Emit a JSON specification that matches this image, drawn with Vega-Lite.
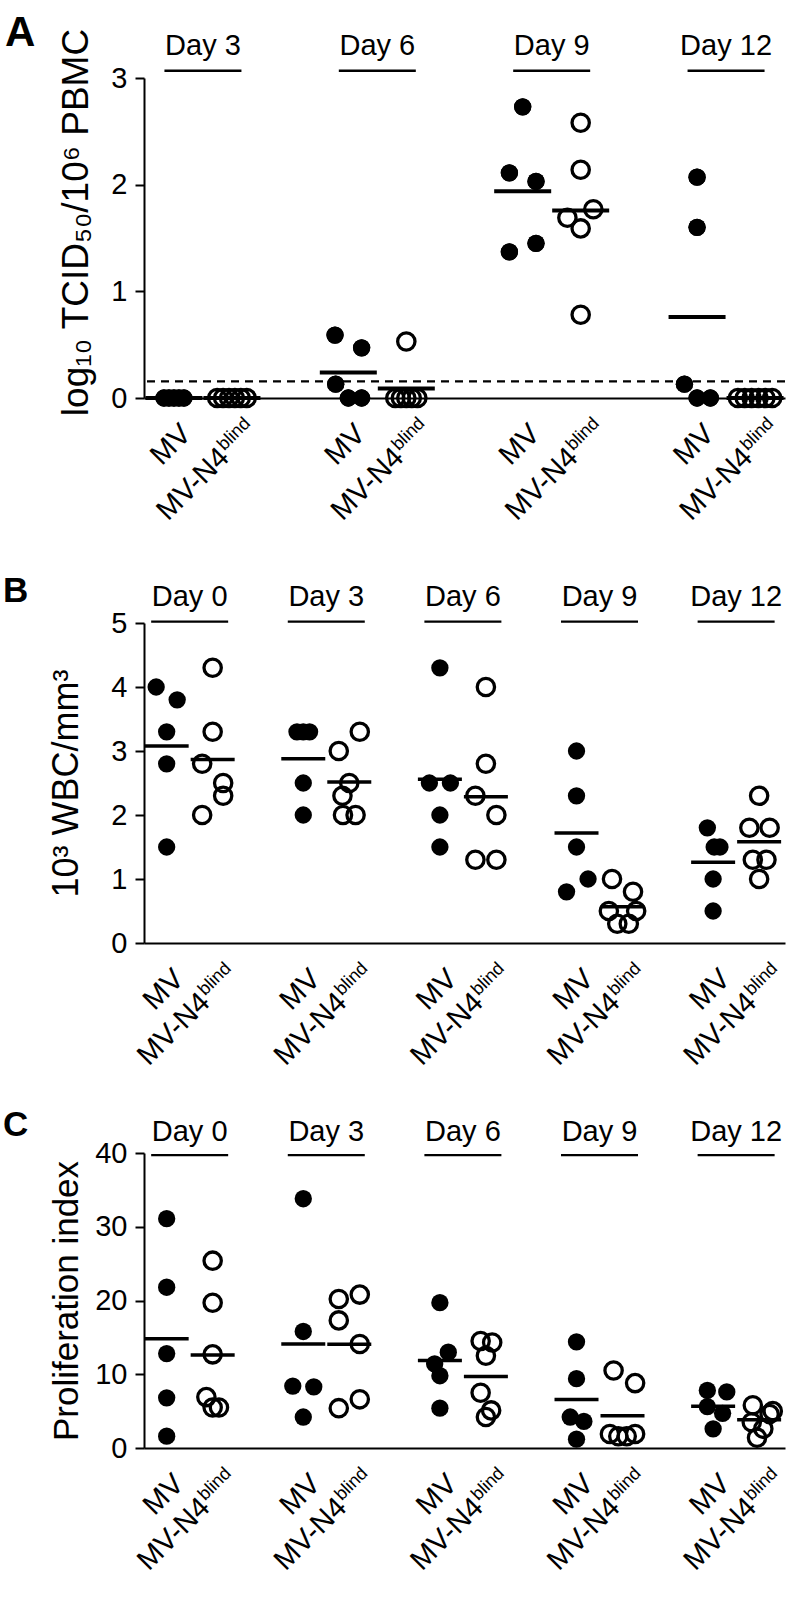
{
  "$schema": "https://vega.github.io/schema/vega-lite/v6.json",
  "background": "white",
  "padding": {"left": 3, "top": 12, "right": 0, "bottom": 0},
  "config": {
    "font": "Liberation Sans",
    "view": {"stroke": null},
    "axis": {"domainColor": "black", "tickColor": "black", "labelColor": "black", "titleColor": "black", "domainWidth": 2, "tickWidth": 2, "tickSize": 9, "grid": false, "labelFont": "Liberation Sans", "titleFont": "Liberation Sans", "titleFontWeight": "normal", "labelFontSize": 29, "labelPadding": 8},
    "axisX": {"labels": false, "ticks": false, "domain": true},
    "title": {"color": "black", "font": "Liberation Sans", "fontWeight": "bold", "anchor": "start", "frame": "group", "baseline": "alphabetic", "offset": 0},
    "text": {"font": "Liberation Sans", "color": "black"},
    "point": {"opacity": 1},
    "tick": {"opacity": 1, "color": "black"}
  },
  "datasets": {
    "A": [
      {"day": "Day 3", "group": "MV", "value": 0, "dodge": -0.75},
      {"day": "Day 3", "group": "MV", "value": 0, "dodge": -0.375},
      {"day": "Day 3", "group": "MV", "value": 0, "dodge": 0},
      {"day": "Day 3", "group": "MV", "value": 0, "dodge": 0.375},
      {"day": "Day 3", "group": "MV", "value": 0, "dodge": 0.75},
      {"day": "Day 3", "group": "MV-N4", "value": 0, "dodge": -1.11},
      {"day": "Day 3", "group": "MV-N4", "value": 0, "dodge": -0.665},
      {"day": "Day 3", "group": "MV-N4", "value": 0, "dodge": -0.22},
      {"day": "Day 3", "group": "MV-N4", "value": 0, "dodge": 0.22},
      {"day": "Day 3", "group": "MV-N4", "value": 0, "dodge": 0.665},
      {"day": "Day 3", "group": "MV-N4", "value": 0, "dodge": 1.11},
      {"day": "Day 6", "group": "MV", "value": 0.59, "dodge": -1},
      {"day": "Day 6", "group": "MV", "value": 0.47, "dodge": 1},
      {"day": "Day 6", "group": "MV", "value": 0.13, "dodge": -0.95},
      {"day": "Day 6", "group": "MV", "value": 0, "dodge": 0},
      {"day": "Day 6", "group": "MV", "value": 0, "dodge": 1},
      {"day": "Day 6", "group": "MV-N4", "value": 0.53, "dodge": 0},
      {"day": "Day 6", "group": "MV-N4", "value": 0, "dodge": -0.83},
      {"day": "Day 6", "group": "MV-N4", "value": 0, "dodge": -0.41},
      {"day": "Day 6", "group": "MV-N4", "value": 0, "dodge": 0},
      {"day": "Day 6", "group": "MV-N4", "value": 0, "dodge": 0.41},
      {"day": "Day 6", "group": "MV-N4", "value": 0, "dodge": 0.83},
      {"day": "Day 9", "group": "MV", "value": 2.73, "dodge": 0},
      {"day": "Day 9", "group": "MV", "value": 2.11, "dodge": -1},
      {"day": "Day 9", "group": "MV", "value": 2.03, "dodge": 1},
      {"day": "Day 9", "group": "MV", "value": 1.37, "dodge": -1},
      {"day": "Day 9", "group": "MV", "value": 1.45, "dodge": 1},
      {"day": "Day 9", "group": "MV-N4", "value": 2.58, "dodge": 0},
      {"day": "Day 9", "group": "MV-N4", "value": 2.14, "dodge": 0},
      {"day": "Day 9", "group": "MV-N4", "value": 1.77, "dodge": 0.95},
      {"day": "Day 9", "group": "MV-N4", "value": 1.69, "dodge": -1},
      {"day": "Day 9", "group": "MV-N4", "value": 1.59, "dodge": 0},
      {"day": "Day 9", "group": "MV-N4", "value": 0.78, "dodge": 0},
      {"day": "Day 12", "group": "MV", "value": 2.07, "dodge": 0},
      {"day": "Day 12", "group": "MV", "value": 1.6, "dodge": 0},
      {"day": "Day 12", "group": "MV", "value": 0.13, "dodge": -0.95},
      {"day": "Day 12", "group": "MV", "value": 0, "dodge": 0},
      {"day": "Day 12", "group": "MV", "value": 0, "dodge": 1},
      {"day": "Day 12", "group": "MV-N4", "value": 0, "dodge": -1.29},
      {"day": "Day 12", "group": "MV-N4", "value": 0, "dodge": -0.78},
      {"day": "Day 12", "group": "MV-N4", "value": 0, "dodge": -0.26},
      {"day": "Day 12", "group": "MV-N4", "value": 0, "dodge": 0.26},
      {"day": "Day 12", "group": "MV-N4", "value": 0, "dodge": 0.78},
      {"day": "Day 12", "group": "MV-N4", "value": 0, "dodge": 1.29}
    ],
    "lodA": [{"lod": 0.155}],
    "B": [
      {"day": "Day 0", "group": "MV", "value": 4.0, "dodge": -1},
      {"day": "Day 0", "group": "MV", "value": 3.8, "dodge": 1},
      {"day": "Day 0", "group": "MV", "value": 3.3, "dodge": 0},
      {"day": "Day 0", "group": "MV", "value": 2.8, "dodge": 0},
      {"day": "Day 0", "group": "MV", "value": 1.5, "dodge": 0},
      {"day": "Day 0", "group": "MV-N4", "value": 4.3, "dodge": 0},
      {"day": "Day 0", "group": "MV-N4", "value": 3.3, "dodge": 0},
      {"day": "Day 0", "group": "MV-N4", "value": 2.8, "dodge": -1},
      {"day": "Day 0", "group": "MV-N4", "value": 2.5, "dodge": 1},
      {"day": "Day 0", "group": "MV-N4", "value": 2.3, "dodge": 1},
      {"day": "Day 0", "group": "MV-N4", "value": 2.0, "dodge": -1},
      {"day": "Day 3", "group": "MV", "value": 3.3, "dodge": -0.6},
      {"day": "Day 3", "group": "MV", "value": 3.3, "dodge": 0},
      {"day": "Day 3", "group": "MV", "value": 3.3, "dodge": 0.6},
      {"day": "Day 3", "group": "MV", "value": 2.5, "dodge": 0},
      {"day": "Day 3", "group": "MV", "value": 2.0, "dodge": 0},
      {"day": "Day 3", "group": "MV-N4", "value": 3.3, "dodge": 1},
      {"day": "Day 3", "group": "MV-N4", "value": 3.0, "dodge": -1},
      {"day": "Day 3", "group": "MV-N4", "value": 2.5, "dodge": 0},
      {"day": "Day 3", "group": "MV-N4", "value": 2.3, "dodge": -0.65},
      {"day": "Day 3", "group": "MV-N4", "value": 2.0, "dodge": -0.6},
      {"day": "Day 3", "group": "MV-N4", "value": 2.0, "dodge": 0.6},
      {"day": "Day 6", "group": "MV", "value": 4.3, "dodge": 0},
      {"day": "Day 6", "group": "MV", "value": 2.5, "dodge": -1},
      {"day": "Day 6", "group": "MV", "value": 2.5, "dodge": 1},
      {"day": "Day 6", "group": "MV", "value": 2.0, "dodge": 0},
      {"day": "Day 6", "group": "MV", "value": 1.5, "dodge": 0},
      {"day": "Day 6", "group": "MV-N4", "value": 4.0, "dodge": 0},
      {"day": "Day 6", "group": "MV-N4", "value": 2.8, "dodge": 0},
      {"day": "Day 6", "group": "MV-N4", "value": 2.3, "dodge": -1},
      {"day": "Day 6", "group": "MV-N4", "value": 2.0, "dodge": 1},
      {"day": "Day 6", "group": "MV-N4", "value": 1.3, "dodge": -1},
      {"day": "Day 6", "group": "MV-N4", "value": 1.3, "dodge": 1},
      {"day": "Day 9", "group": "MV", "value": 3.0, "dodge": 0},
      {"day": "Day 9", "group": "MV", "value": 2.3, "dodge": 0},
      {"day": "Day 9", "group": "MV", "value": 1.5, "dodge": 0},
      {"day": "Day 9", "group": "MV", "value": 1.0, "dodge": 1.1},
      {"day": "Day 9", "group": "MV", "value": 0.8, "dodge": -0.95},
      {"day": "Day 9", "group": "MV-N4", "value": 1.0, "dodge": -1},
      {"day": "Day 9", "group": "MV-N4", "value": 0.8, "dodge": 1},
      {"day": "Day 9", "group": "MV-N4", "value": 0.5, "dodge": -1.3},
      {"day": "Day 9", "group": "MV-N4", "value": 0.5, "dodge": 1.3},
      {"day": "Day 9", "group": "MV-N4", "value": 0.3, "dodge": -0.5},
      {"day": "Day 9", "group": "MV-N4", "value": 0.3, "dodge": 0.6},
      {"day": "Day 12", "group": "MV", "value": 1.8, "dodge": -0.55},
      {"day": "Day 12", "group": "MV", "value": 1.5, "dodge": 0.1},
      {"day": "Day 12", "group": "MV", "value": 1.5, "dodge": 0.65},
      {"day": "Day 12", "group": "MV", "value": 1.0, "dodge": 0},
      {"day": "Day 12", "group": "MV", "value": 0.5, "dodge": 0},
      {"day": "Day 12", "group": "MV-N4", "value": 2.3, "dodge": 0},
      {"day": "Day 12", "group": "MV-N4", "value": 1.8, "dodge": -0.93},
      {"day": "Day 12", "group": "MV-N4", "value": 1.8, "dodge": 1},
      {"day": "Day 12", "group": "MV-N4", "value": 1.3, "dodge": -0.6},
      {"day": "Day 12", "group": "MV-N4", "value": 1.3, "dodge": 0.7},
      {"day": "Day 12", "group": "MV-N4", "value": 1.0, "dodge": 0}
    ],
    "C": [
      {"day": "Day 0", "group": "MV", "value": 31.1, "dodge": 0},
      {"day": "Day 0", "group": "MV", "value": 21.8, "dodge": 0},
      {"day": "Day 0", "group": "MV", "value": 12.8, "dodge": 0},
      {"day": "Day 0", "group": "MV", "value": 6.8, "dodge": 0},
      {"day": "Day 0", "group": "MV", "value": 1.6, "dodge": 0},
      {"day": "Day 0", "group": "MV-N4", "value": 25.4, "dodge": 0},
      {"day": "Day 0", "group": "MV-N4", "value": 19.7, "dodge": 0},
      {"day": "Day 0", "group": "MV-N4", "value": 12.7, "dodge": 0},
      {"day": "Day 0", "group": "MV-N4", "value": 6.9, "dodge": -0.6},
      {"day": "Day 0", "group": "MV-N4", "value": 5.5, "dodge": 0},
      {"day": "Day 0", "group": "MV-N4", "value": 5.5, "dodge": 0.6},
      {"day": "Day 3", "group": "MV", "value": 33.8, "dodge": 0},
      {"day": "Day 3", "group": "MV", "value": 15.8, "dodge": 0},
      {"day": "Day 3", "group": "MV", "value": 8.4, "dodge": -1},
      {"day": "Day 3", "group": "MV", "value": 8.3, "dodge": 1},
      {"day": "Day 3", "group": "MV", "value": 4.2, "dodge": 0},
      {"day": "Day 3", "group": "MV-N4", "value": 20.8, "dodge": 1},
      {"day": "Day 3", "group": "MV-N4", "value": 20.2, "dodge": -1},
      {"day": "Day 3", "group": "MV-N4", "value": 17.3, "dodge": -1},
      {"day": "Day 3", "group": "MV-N4", "value": 14.1, "dodge": 1},
      {"day": "Day 3", "group": "MV-N4", "value": 6.6, "dodge": 1},
      {"day": "Day 3", "group": "MV-N4", "value": 5.4, "dodge": -1},
      {"day": "Day 6", "group": "MV", "value": 19.7, "dodge": 0},
      {"day": "Day 6", "group": "MV", "value": 13.0, "dodge": 0.8},
      {"day": "Day 6", "group": "MV", "value": 11.4, "dodge": -0.5},
      {"day": "Day 6", "group": "MV", "value": 9.8, "dodge": 0},
      {"day": "Day 6", "group": "MV", "value": 5.4, "dodge": 0},
      {"day": "Day 6", "group": "MV-N4", "value": 14.5, "dodge": -0.5},
      {"day": "Day 6", "group": "MV-N4", "value": 14.3, "dodge": 0.6},
      {"day": "Day 6", "group": "MV-N4", "value": 12.5, "dodge": 0},
      {"day": "Day 6", "group": "MV-N4", "value": 7.5, "dodge": -0.5},
      {"day": "Day 6", "group": "MV-N4", "value": 5.1, "dodge": 0.5},
      {"day": "Day 6", "group": "MV-N4", "value": 4.2, "dodge": 0},
      {"day": "Day 9", "group": "MV", "value": 14.4, "dodge": 0},
      {"day": "Day 9", "group": "MV", "value": 9.4, "dodge": 0},
      {"day": "Day 9", "group": "MV", "value": 4.2, "dodge": -0.6},
      {"day": "Day 9", "group": "MV", "value": 3.6, "dodge": 0.7},
      {"day": "Day 9", "group": "MV", "value": 1.2, "dodge": 0},
      {"day": "Day 9", "group": "MV-N4", "value": 10.5, "dodge": -0.85},
      {"day": "Day 9", "group": "MV-N4", "value": 8.8, "dodge": 1.2},
      {"day": "Day 9", "group": "MV-N4", "value": 1.9, "dodge": -1.2},
      {"day": "Day 9", "group": "MV-N4", "value": 1.6, "dodge": -0.4},
      {"day": "Day 9", "group": "MV-N4", "value": 1.6, "dodge": 0.4},
      {"day": "Day 9", "group": "MV-N4", "value": 1.9, "dodge": 1.2},
      {"day": "Day 12", "group": "MV", "value": 7.8, "dodge": -0.55},
      {"day": "Day 12", "group": "MV", "value": 7.6, "dodge": 1.3},
      {"day": "Day 12", "group": "MV", "value": 5.6, "dodge": -0.55},
      {"day": "Day 12", "group": "MV", "value": 4.7, "dodge": 0.9},
      {"day": "Day 12", "group": "MV", "value": 2.6, "dodge": 0},
      {"day": "Day 12", "group": "MV-N4", "value": 5.8, "dodge": -0.6},
      {"day": "Day 12", "group": "MV-N4", "value": 5.0, "dodge": 1.3},
      {"day": "Day 12", "group": "MV-N4", "value": 4.6, "dodge": 1.0},
      {"day": "Day 12", "group": "MV-N4", "value": 3.5, "dodge": -0.7},
      {"day": "Day 12", "group": "MV-N4", "value": 2.6, "dodge": 0.4},
      {"day": "Day 12", "group": "MV-N4", "value": 1.4, "dodge": -0.2}
    ]
  },
  "bounds": "flush",
  "spacing": 225,
  "vconcat": [
    {
      "width": 641, "height": 320,
      "title": {"text": "A", "fontSize": 42, "dx": -139, "dy": 31.3},
      "data": {"name": "A"},
      "resolve": {"scale": {"xOffset": "independent"}},
      "layer": [
        {"transform": [{"filter": {"field": "group", "equal": "MV"}}],
         "mark": {"type": "point", "shape": "circle", "filled": true, "size": 300, "color": "black"},
         "encoding": {
           "x": {"field": "day", "type": "nominal", "scale": {"type": "point", "domain": ["Day 3", "Day 6", "Day 9", "Day 12"], "padding": 0.338, "align": 0.5}, "axis": {"title": null}},
           "xOffset": {"field": "dodge", "type": "quantitative", "scale": {"domain": [-1, 1], "range": [-42.3, -15.7], "zero": false, "nice": false}},
           "y": {"field": "value", "type": "quantitative", "scale": {"domain": [0, 3]}, "axis": {"values": [0, 1, 2, 3], "format": "d", "title": "log₁₀ TCID₅₀/10⁶ PBMC", "titleFontSize": 37, "titlePadding": 15, "titleY": 144}}
         }},
        {"data": {"name": "lodA"}, "mark": {"type": "rule", "strokeDash": [8, 6], "strokeWidth": 2.3, "color": "black"},
         "encoding": {"y": {"field": "lod", "type": "quantitative"}}},
        {"transform": [{"filter": {"field": "group", "equal": "MV"}}],
         "mark": {"type": "point", "shape": "circle", "filled": true, "size": 300, "color": "black"},
         "encoding": {
           "x": {"field": "day", "type": "nominal"},
           "xOffset": {"field": "dodge", "type": "quantitative", "scale": {"domain": [-1, 1], "range": [-42.3, -15.7], "zero": false, "nice": false}},
           "y": {"field": "value", "type": "quantitative"}
         }},
        {"transform": [{"filter": {"field": "group", "equal": "MV-N4"}}],
         "mark": {"type": "point", "shape": "circle", "filled": false, "size": 300, "strokeWidth": 3.3, "color": "black"},
         "encoding": {
           "x": {"field": "day", "type": "nominal"},
           "xOffset": {"field": "dodge", "type": "quantitative", "scale": {"domain": [-1, 1], "range": [15.7, 42.3], "zero": false, "nice": false}},
           "y": {"field": "value", "type": "quantitative"}
         }},
        {"transform": [{"aggregate": [{"op": "mean", "field": "value", "as": "mean"}], "groupby": ["day", "group"]}],
         "mark": {"type": "tick", "size": 57, "thickness": 4},
         "encoding": {
           "x": {"field": "day", "type": "nominal"},
           "xOffset": {"field": "group", "type": "nominal", "scale": {"type": "point", "domain": ["MV", "MV-N4"], "range": [-29, 29], "padding": 0}},
           "y": {"field": "mean", "type": "quantitative"}
         }},
        {"transform": [{"aggregate": [{"op": "count", "as": "n"}], "groupby": ["day", "group"]}, {"filter": {"field": "group", "equal": "MV"}}],
         "mark": {"type": "text", "angle": -45, "align": "right", "baseline": "alphabetic", "fontSize": 29, "dx": -13.4, "dy": 39.8},
         "encoding": {
           "x": {"field": "day", "type": "nominal"},
           "xOffset": {"field": "group", "type": "nominal", "scale": {"type": "point", "domain": ["MV", "MV-N4"], "range": [-29, 29], "padding": 0}},
           "y": {"datum": 0},
           "text": {"field": "group"}
         }},
        {"transform": [{"aggregate": [{"op": "count", "as": "n"}], "groupby": ["day", "group"]}, {"filter": {"field": "group", "equal": "MV-N4"}}],
         "mark": {"type": "text", "angle": -45, "align": "right", "baseline": "alphabetic", "fontSize": 29, "dx": -44, "dy": 42.3},
         "encoding": {
           "x": {"field": "day", "type": "nominal"},
           "xOffset": {"field": "group", "type": "nominal", "scale": {"type": "point", "domain": ["MV", "MV-N4"], "range": [-29, 29], "padding": 0}},
           "y": {"datum": 0},
           "text": {"field": "group"}
         }},
        {"transform": [{"aggregate": [{"op": "count", "as": "n"}], "groupby": ["day", "group"]}, {"filter": {"field": "group", "equal": "MV-N4"}}],
         "mark": {"type": "text", "angle": -45, "align": "right", "baseline": "alphabetic", "fontSize": 18, "dx": -5, "dy": 32.3},
         "encoding": {
           "x": {"field": "day", "type": "nominal"},
           "xOffset": {"field": "group", "type": "nominal", "scale": {"type": "point", "domain": ["MV", "MV-N4"], "range": [-29, 29], "padding": 0}},
           "y": {"datum": 0},
           "text": {"value": "blind"}
         }},
        {"transform": [{"aggregate": [{"op": "count", "as": "n"}], "groupby": ["day"]}],
         "mark": {"type": "text", "align": "center", "baseline": "alphabetic", "fontSize": 29},
         "encoding": {
           "x": {"field": "day", "type": "nominal"},
           "y": {"datum": 3.216},
           "text": {"field": "day"}
         }},
        {"transform": [{"aggregate": [{"op": "count", "as": "n"}], "groupby": ["day"]}],
         "mark": {"type": "tick", "size": 77, "thickness": 2.3},
         "encoding": {
           "x": {"field": "day", "type": "nominal"},
           "y": {"datum": 3.068}
         }}
      ]
    },
    {
      "bounds": "flush",
      "spacing": 210,
      "vconcat": [
        {
          "width": 641, "height": 320,
          "title": {"text": "B", "fontSize": 35, "dx": -141, "dy": 29.6},
          "data": {"name": "B"},
          "resolve": {"scale": {"xOffset": "independent"}},
          "layer": [
            {"transform": [{"filter": {"field": "group", "equal": "MV"}}],
             "mark": {"type": "point", "shape": "circle", "filled": true, "size": 300, "color": "black"},
             "encoding": {
               "x": {"field": "day", "type": "nominal", "scale": {"type": "point", "domain": ["Day 0", "Day 3", "Day 6", "Day 9", "Day 12"], "padding": 0.346, "align": 0.483}, "axis": {"title": null}},
               "xOffset": {"field": "dodge", "type": "quantitative", "scale": {"domain": [-1, 1], "range": [-33.5, -12.5], "zero": false, "nice": false}},
               "y": {"field": "value", "type": "quantitative", "scale": {"domain": [0, 5]}, "axis": {"values": [0, 1, 2, 3, 4, 5], "format": "d", "title": "10³ WBC/mm³", "titleFontSize": 36, "titlePadding": 25}}
             }},
            {"transform": [{"filter": {"field": "group", "equal": "MV-N4"}}],
             "mark": {"type": "point", "shape": "circle", "filled": false, "size": 300, "strokeWidth": 3.3, "color": "black"},
             "encoding": {
               "x": {"field": "day", "type": "nominal"},
               "xOffset": {"field": "dodge", "type": "quantitative", "scale": {"domain": [-1, 1], "range": [12.5, 33.5], "zero": false, "nice": false}},
               "y": {"field": "value", "type": "quantitative"}
             }},
            {"transform": [{"aggregate": [{"op": "mean", "field": "value", "as": "mean"}], "groupby": ["day", "group"]}],
             "mark": {"type": "tick", "size": 44, "thickness": 3.5},
             "encoding": {
               "x": {"field": "day", "type": "nominal"},
               "xOffset": {"field": "group", "type": "nominal", "scale": {"type": "point", "domain": ["MV", "MV-N4"], "range": [-23, 23], "padding": 0}},
               "y": {"field": "mean", "type": "quantitative"}
             }},
            {"transform": [{"aggregate": [{"op": "count", "as": "n"}], "groupby": ["day", "group"]}, {"filter": {"field": "group", "equal": "MV"}}],
             "mark": {"type": "text", "angle": -45, "align": "right", "baseline": "alphabetic", "fontSize": 29, "dx": -13.4, "dy": 39.8},
             "encoding": {
               "x": {"field": "day", "type": "nominal"},
               "xOffset": {"field": "group", "type": "nominal", "scale": {"type": "point", "domain": ["MV", "MV-N4"], "range": [-23, 23], "padding": 0}},
               "y": {"datum": 0},
               "text": {"field": "group"}
             }},
            {"transform": [{"aggregate": [{"op": "count", "as": "n"}], "groupby": ["day", "group"]}, {"filter": {"field": "group", "equal": "MV-N4"}}],
             "mark": {"type": "text", "angle": -45, "align": "right", "baseline": "alphabetic", "fontSize": 29, "dx": -44, "dy": 42.3},
             "encoding": {
               "x": {"field": "day", "type": "nominal"},
               "xOffset": {"field": "group", "type": "nominal", "scale": {"type": "point", "domain": ["MV", "MV-N4"], "range": [-23, 23], "padding": 0}},
               "y": {"datum": 0},
               "text": {"field": "group"}
             }},
            {"transform": [{"aggregate": [{"op": "count", "as": "n"}], "groupby": ["day", "group"]}, {"filter": {"field": "group", "equal": "MV-N4"}}],
             "mark": {"type": "text", "angle": -45, "align": "right", "baseline": "alphabetic", "fontSize": 18, "dx": -5, "dy": 32.3},
             "encoding": {
               "x": {"field": "day", "type": "nominal"},
               "xOffset": {"field": "group", "type": "nominal", "scale": {"type": "point", "domain": ["MV", "MV-N4"], "range": [-23, 23], "padding": 0}},
               "y": {"datum": 0},
               "text": {"value": "blind"}
             }},
            {"transform": [{"aggregate": [{"op": "count", "as": "n"}], "groupby": ["day"]}],
             "mark": {"type": "text", "align": "center", "baseline": "alphabetic", "fontSize": 29},
             "encoding": {
               "x": {"field": "day", "type": "nominal"},
               "y": {"datum": 5.26},
               "text": {"field": "day"}
             }},
            {"transform": [{"aggregate": [{"op": "count", "as": "n"}], "groupby": ["day"]}],
             "mark": {"type": "tick", "size": 77, "thickness": 2.3},
             "encoding": {
               "x": {"field": "day", "type": "nominal"},
               "y": {"datum": 5.02}
             }}
          ]
        },
        {
          "width": 641, "height": 295,
          "title": {"text": "C", "fontSize": 35, "dx": -141, "dy": 29.5},
          "data": {"name": "C"},
          "resolve": {"scale": {"xOffset": "independent"}},
          "layer": [
            {"transform": [{"filter": {"field": "group", "equal": "MV"}}],
             "mark": {"type": "point", "shape": "circle", "filled": true, "size": 300, "color": "black"},
             "encoding": {
               "x": {"field": "day", "type": "nominal", "scale": {"type": "point", "domain": ["Day 0", "Day 3", "Day 6", "Day 9", "Day 12"], "padding": 0.346, "align": 0.483}, "axis": {"title": null}},
               "xOffset": {"field": "dodge", "type": "quantitative", "scale": {"domain": [-1, 1], "range": [-33.5, -12.5], "zero": false, "nice": false}},
               "y": {"field": "value", "type": "quantitative", "scale": {"domain": [0, 40]}, "axis": {"values": [0, 10, 20, 30, 40], "format": "d", "title": "Proliferation index", "titleFontSize": 35, "titlePadding": 10}}
             }},
            {"transform": [{"filter": {"field": "group", "equal": "MV-N4"}}],
             "mark": {"type": "point", "shape": "circle", "filled": false, "size": 300, "strokeWidth": 3.3, "color": "black"},
             "encoding": {
               "x": {"field": "day", "type": "nominal"},
               "xOffset": {"field": "dodge", "type": "quantitative", "scale": {"domain": [-1, 1], "range": [12.5, 33.5], "zero": false, "nice": false}},
               "y": {"field": "value", "type": "quantitative"}
             }},
            {"transform": [{"aggregate": [{"op": "mean", "field": "value", "as": "mean"}], "groupby": ["day", "group"]}],
             "mark": {"type": "tick", "size": 44, "thickness": 3.5},
             "encoding": {
               "x": {"field": "day", "type": "nominal"},
               "xOffset": {"field": "group", "type": "nominal", "scale": {"type": "point", "domain": ["MV", "MV-N4"], "range": [-23, 23], "padding": 0}},
               "y": {"field": "mean", "type": "quantitative"}
             }},
            {"transform": [{"aggregate": [{"op": "count", "as": "n"}], "groupby": ["day", "group"]}, {"filter": {"field": "group", "equal": "MV"}}],
             "mark": {"type": "text", "angle": -45, "align": "right", "baseline": "alphabetic", "fontSize": 29, "dx": -13.4, "dy": 39.8},
             "encoding": {
               "x": {"field": "day", "type": "nominal"},
               "xOffset": {"field": "group", "type": "nominal", "scale": {"type": "point", "domain": ["MV", "MV-N4"], "range": [-23, 23], "padding": 0}},
               "y": {"datum": 0},
               "text": {"field": "group"}
             }},
            {"transform": [{"aggregate": [{"op": "count", "as": "n"}], "groupby": ["day", "group"]}, {"filter": {"field": "group", "equal": "MV-N4"}}],
             "mark": {"type": "text", "angle": -45, "align": "right", "baseline": "alphabetic", "fontSize": 29, "dx": -44, "dy": 42.3},
             "encoding": {
               "x": {"field": "day", "type": "nominal"},
               "xOffset": {"field": "group", "type": "nominal", "scale": {"type": "point", "domain": ["MV", "MV-N4"], "range": [-23, 23], "padding": 0}},
               "y": {"datum": 0},
               "text": {"field": "group"}
             }},
            {"transform": [{"aggregate": [{"op": "count", "as": "n"}], "groupby": ["day", "group"]}, {"filter": {"field": "group", "equal": "MV-N4"}}],
             "mark": {"type": "text", "angle": -45, "align": "right", "baseline": "alphabetic", "fontSize": 18, "dx": -5, "dy": 32.3},
             "encoding": {
               "x": {"field": "day", "type": "nominal"},
               "xOffset": {"field": "group", "type": "nominal", "scale": {"type": "point", "domain": ["MV", "MV-N4"], "range": [-23, 23], "padding": 0}},
               "y": {"datum": 0},
               "text": {"value": "blind"}
             }},
            {"transform": [{"aggregate": [{"op": "count", "as": "n"}], "groupby": ["day"]}],
             "mark": {"type": "text", "align": "center", "baseline": "alphabetic", "fontSize": 29},
             "encoding": {
               "x": {"field": "day", "type": "nominal"},
               "y": {"datum": 41.67},
               "text": {"field": "day"}
             }},
            {"transform": [{"aggregate": [{"op": "count", "as": "n"}], "groupby": ["day"]}],
             "mark": {"type": "tick", "size": 77, "thickness": 2.3},
             "encoding": {
               "x": {"field": "day", "type": "nominal"},
               "y": {"datum": 39.7}
             }}
          ]
        }
      ]
    }
  ]
}
